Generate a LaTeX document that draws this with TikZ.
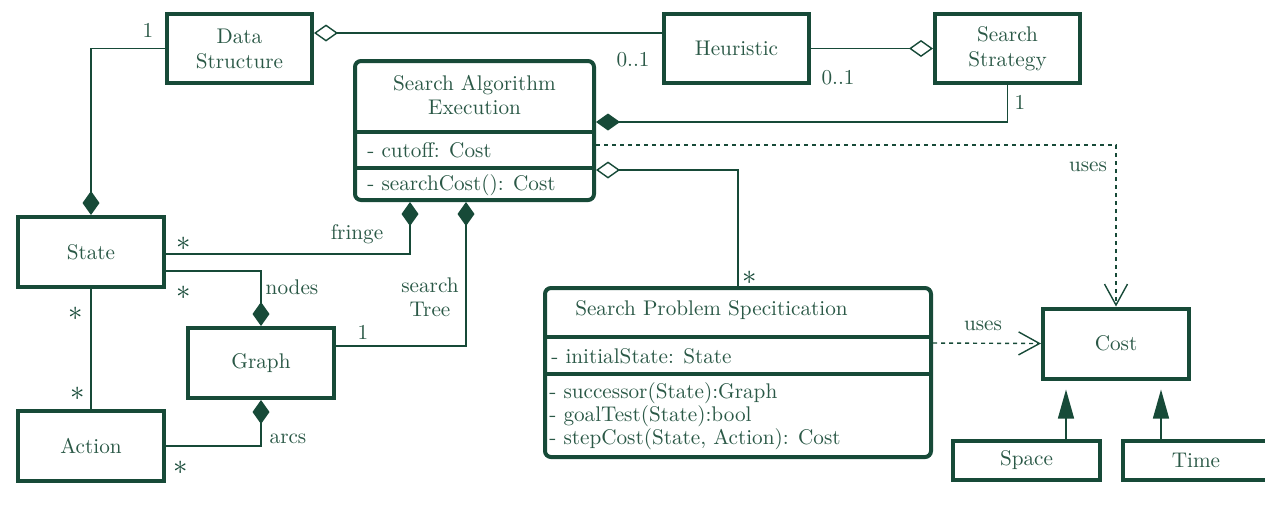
\documentclass[tikz,border=0pt]{standalone}
\usepackage{fontspec}
\usepackage{tikz}
\usetikzlibrary{arrows.meta, positioning, calc}
\definecolor{umlgreen}{HTML}{174A38}
\definecolor{umltext}{HTML}{2A5846}

\tikzset{
  classbox/.style={draw=umlgreen, line width=2pt, minimum width=73pt, minimum height=35pt,
    align=center, text=umltext, font=\fontsize{10.6}{12.5}\selectfont},
  specbox/.style={draw=umlgreen, line width=2pt, rounded corners=3pt},
  member/.style={text=umltext, inner sep=0pt, anchor=west, align=left, font=\fontsize{10.6}{11.6}\selectfont},
  lbl/.style={text=umltext, inner sep=0pt, align=center, font=\fontsize{10.6}{12}\selectfont},
  star/.style={text=umlgreen, inner sep=0pt, font=\fontsize{13.5}{13.5}\selectfont},
  link/.style={draw=umlgreen, line width=0.7pt},
  comp/.style={link, {Diamond[length=12pt,width=8.5pt]}-},
  agg/.style={link, {Diamond[open,length=12pt,width=8.5pt,fill=white]}-},
  uses/.style={link, dash pattern=on 2pt off 2pt, -{Straight Barb[length=10.5pt,width=11.5pt]}},
  gen/.style={link, -{Triangle[length=14.5pt,width=8pt]}, shorten >=4.5pt}
}

\begin{document}
\begin{tikzpicture}[x=0.5pt, y=-0.5pt]
  \useasboundingbox (0,0) rectangle (1265,511);

  % Top row
  \node[classbox, minimum width=72.5pt, minimum height=34.5pt] (ds) at (239.5,48.5) {Data\\Structure};
  \node[classbox, minimum width=72.5pt, minimum height=34.5pt] (heur) at (736.5,48.5) {Heuristic};
  \node[classbox, minimum width=72.5pt, minimum height=34.5pt] (strat) at (1007.5,48.5) {Search\\Strategy};

  % Search Algorithm Execution (three compartments)
  \node[specbox, minimum width=119.5pt, minimum height=69.5pt] (sae) at (474.5,130.5) {};
  \draw[umlgreen, line width=2pt] (355,132) -- (594,132);
  \draw[umlgreen, line width=2pt] (355,168) -- (594,168);
  \node[lbl] (saetitle) at (474.5,95) {Search Algorithm\\Execution};
  \node[member] (saeattr) at (367,150) {- cutoff: Cost};
  \node[member] (saeop) at (367,185) {- searchCost(): Cost};

  % Left column
  \node[classbox] (state) at (91,252) {State};
  \node[classbox] (action) at (91,446) {Action};
  \node[classbox] (graph) at (261,363) {Graph};

  % Search Problem Specitication (three compartments)
  \node[specbox, minimum width=193pt, minimum height=84.5pt] (sps) at (738,372.5) {};
  \draw[umlgreen, line width=2pt] (545,337) -- (931,337);
  \draw[umlgreen, line width=2pt] (545,374) -- (931,374);
  \node[lbl] (spstitle) at (711.5,310) {Search Problem Specitication};
  \node[member] (spsattr) at (551,356) {- initialState: State};
  \node[member] (spsops) at (549,416) {- successor(State):Graph\\- goalTest(State):bool\\- stepCost(State, Action): Cost};

  % Cost and its kinds
  \node[classbox] (cost) at (1116,343.5) {Cost};
  \node[classbox, minimum width=73.5pt, minimum height=19.5pt] (space) at (1026.5,460.5) {Space};
  \node[classbox, minimum width=73.5pt, minimum height=19.5pt] (time) at (1196,460.5) {Time};

  % Associations
  \draw[comp] (state.north) |- (ds.west);
  \draw[agg] ($(ds.east)+(0,-15.5)$) -- ($(heur.west)+(0,-15.5)$);
  \draw[agg] (strat.west) -- (heur.east);
  \draw[comp] ($(sae.east)+(0,-8.5)$) -| (strat.south);
  \draw[uses] ($(sae.east)+(0,14.5)$) -| (cost.north);
  \draw[agg] ($(sae.east)+(0,39.5)$) -| (sps.north);
  \draw[comp] ($(sae.south)+(-64.5,0)$) |- ($(state.east)+(0,2)$);
  \draw[comp] ($(sae.south)+(-8.5,0)$) |- ($(graph.east)+(0,-17)$);
  \draw[comp] (graph.north) |- ($(state.east)+(0,19)$);
  \draw[comp] (graph.south) |- (action.east);
  \draw[link] (state.south) -- (action.north);
  \draw[uses] ($(sps.east)+(0,-29.5)$) -- (cost.west);
  \draw[gen] ($(space.north)+(39.5,0)$) -- ($(cost.south)+(-50,0)$);
  \draw[gen] ($(time.north)+(-35,0)$) -- ($(cost.south)+(45,0)$);

  % Multiplicities and roles
  \node[lbl] (m1) at (148,30) {1};
  \node[lbl] (m2) at (633,60) {0..1};
  \node[lbl] (m3) at (838,78) {0..1};
  \node[lbl] (m4) at (1020,102) {1};
  \node[lbl] (u1) at (1088,167) {uses};
  \node[star] (m5) at (750,278) {$*$};
  \node[lbl] (u2) at (983,326) {uses};
  \node[star] (m6) at (184,244) {$*$};
  \node[star] (m7) at (184,293) {$*$};
  \node[lbl] (rfringe) at (357,234) {fringe};
  \node[lbl] (rnodes) at (292,287) {nodes};
  \node[lbl] (rtree) at (430,297) {search\\Tree};
  \node[lbl] (m8) at (363,332) {1};
  \node[star] (m9) at (76,314) {$*$};
  \node[star] (m10) at (78,394) {$*$};
  \node[star] (m11) at (181,468) {$*$};
  \node[lbl] (rarcs) at (288,439) {arcs};
\end{tikzpicture}
\end{document}
